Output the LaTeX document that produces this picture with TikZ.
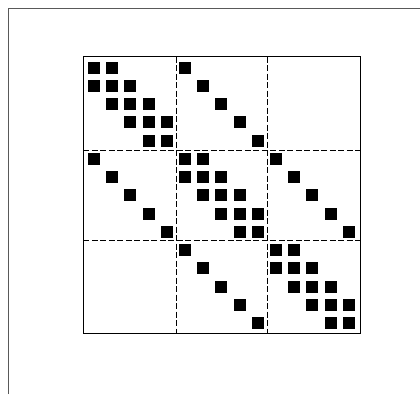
\documentclass[tikz,border=0pt]{standalone}
\usetikzlibrary{calc}
\tikzset{
  frameline/.style={gray!70!black,line width=1.8pt},
  divider/.style={black,line width=1pt,dash pattern=on 6pt off 2.5pt},
}
\newcommand{\nz}[2]{\fill (#1,#2) +(-6pt,-6pt) rectangle +(6pt,6pt);}

\begin{document}
\begin{tikzpicture}[x=1pt,y=-1pt]
\useasboundingbox (0,0) rectangle (420,394);
\draw[frameline] (8.5,394) -- (8.5,8.5) -- (420,8.5);
% block borders
\draw[line width=1pt] (83.3,56.7) rectangle (360,333.3);
\draw[divider] (176,56.7) -- (176,333.3);
\draw[divider] (267.7,56.7) -- (267.7,333.3);
\draw[divider] (83.3,150) -- (360,150);
\draw[divider] (83.3,240) -- (360,240);
% nonzero entries
\begin{scope}[shift={(94,67.5)},x=18.2pt,y=-18.25pt]
\foreach \b in {0,5,10}{
  \foreach \k in {0,...,4}{\nz{\b+\k}{\b+\k}}
  \foreach \k in {0,...,3}{\nz{\b+\k+1}{\b+\k}\nz{\b+\k}{\b+\k+1}}
}
\foreach \b in {0,5}{
  \foreach \k in {0,...,4}{\nz{\b+\k+5}{\b+\k}\nz{\b+\k}{\b+\k+5}}
}
\end{scope}
\end{tikzpicture}
\end{document}
